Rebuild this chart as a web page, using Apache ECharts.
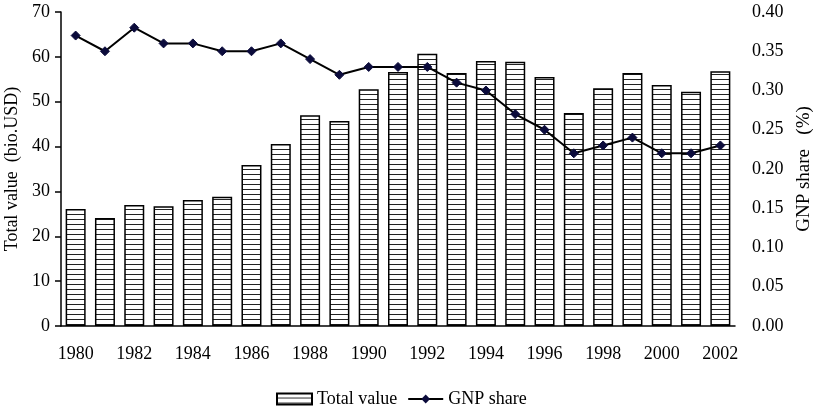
<!DOCTYPE html>
<html>
<head>
<meta charset="utf-8">
<script src="https://cdn.jsdelivr.net/npm/echarts@6/dist/echarts.min.js"></script>
<style>
  html, body { margin: 0; padding: 0; background: #fff; }
  #chart { width: 819px; height: 418px; }
</style>
</head>
<body>
<div id="chart"></div>
<script>
const years = ['1980', '1981', '1982', '1983', '1984', '1985', '1986', '1987', '1988', '1989', '1990', '1991',
  '1992', '1993', '1994', '1995', '1996', '1997', '1998', '1999', '2000', '2001', '2002']
const totalValue = [26.1, 24.1, 27.0, 26.7, 28.1, 28.8, 35.9, 40.6, 47.0, 45.7, 52.8, 56.6,
  60.7, 56.4, 59.1, 58.9, 55.5, 47.5, 53.0, 56.4, 53.7, 52.2, 56.8]
const gnpShare = [0.37, 0.35, 0.38, 0.36, 0.36, 0.35, 0.35, 0.36, 0.34, 0.32, 0.33, 0.33,
  0.33, 0.31, 0.30, 0.27, 0.25, 0.22, 0.23, 0.24, 0.22, 0.22, 0.23]

// horizontal stripe fill for the bars
const stripe = document.createElement('canvas')
stripe.width = 4
stripe.height = 5
const sctx = stripe.getContext('2d')
sctx.fillStyle = '#fff'
sctx.fillRect(0, 0, 4, 5)
sctx.fillStyle = '#222'
sctx.fillRect(0, 4, 4, 1)

const font = 'Liberation Serif'
const chart = echarts.init(document.getElementById('chart'))

chart.setOption({
  animation: false,
  textStyle: { fontFamily: font, color: '#000' },
  grid: { left: 61, right: 84, top: 12, bottom: 92, outerBoundsMode: 'none' },
  legend: {
    bottom: 5,
    left: 271,
    itemWidth: 35,
    itemHeight: 11,
    itemGap: 10,
    textStyle: { fontFamily: font, fontSize: 18, color: '#000' },
    data: [{ name: 'Total value', icon: 'rect' }, 'GNP share'],
  },
  xAxis: {
    type: 'category',
    data: years,
    axisLine: { lineStyle: { color: '#000', width: 1.5 } },
    axisTick: { alignWithLabel: false, length: 7, lineStyle: { color: '#000', width: 1.5 } },
    axisLabel: { interval: 1, color: '#000', fontSize: 18, fontFamily: font, margin: 19 },
  },
  yAxis: [{
    type: 'value',
    min: 0,
    max: 70,
    interval: 10,
    name: 'Total value  (bio.USD)',
    nameLocation: 'middle',
    nameGap: 38,
    nameTextStyle: { fontFamily: font, fontSize: 18, color: '#000' },
    axisLine: { show: true, lineStyle: { color: '#000', width: 1.5 } },
    axisTick: { show: true, length: 6, lineStyle: { color: '#000', width: 1.5 } },
    axisLabel: { color: '#000', fontSize: 18, fontFamily: font, margin: 11 },
    splitLine: { show: false },
  }, {
    type: 'value',
    min: 0,
    max: 0.4,
    interval: 0.05,
    name: 'GNP share   (%)',
    nameLocation: 'middle',
    nameGap: 58,
    nameTextStyle: { fontFamily: font, fontSize: 19, color: '#000' },
    axisLine: { show: false },
    axisTick: { show: false },
    axisLabel: {
      color: '#000', fontSize: 18, fontFamily: font, margin: 17,
      formatter: v => v.toFixed(2),
    },
    splitLine: { show: false },
  }],
  series: [{
    name: 'Total value',
    type: 'bar',
    data: totalValue,
    barWidth: 20,
    itemStyle: {
      color: { image: stripe, repeat: 'repeat' },
      borderColor: '#000',
      borderWidth: 1.5,
    },
  }, {
    name: 'GNP share',
    type: 'line',
    yAxisIndex: 1,
    data: gnpShare,
    symbol: 'diamond',
    symbolSize: 9,
    lineStyle: { color: '#000', width: 2 },
    itemStyle: { color: '#0b0b3b', borderColor: '#0b0b3b' },
  }],
})
</script>
</body>
</html>
